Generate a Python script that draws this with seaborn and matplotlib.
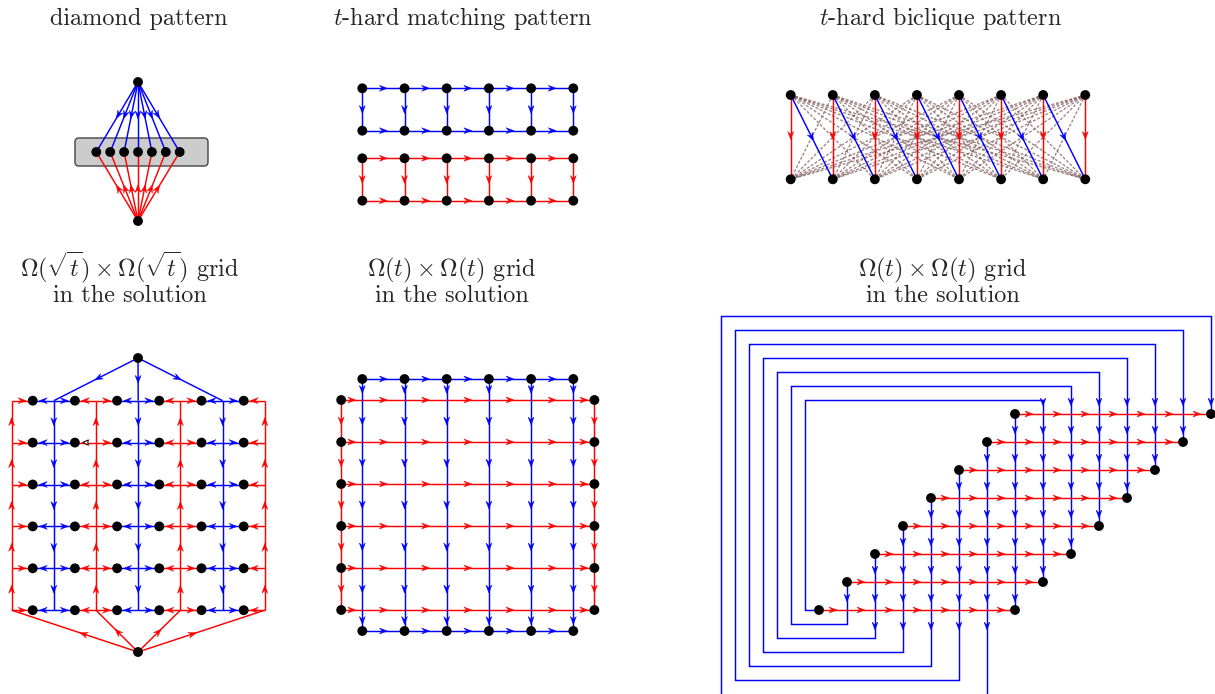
import numpy as np
import pandas as pd
import seaborn as sns
import matplotlib.pyplot as plt
from matplotlib.patches import Polygon, FancyBboxPatch

sns.set_theme(style="white")
plt.rcParams['font.family'] = 'serif'
plt.rcParams['font.serif'] = ['cmr10']
plt.rcParams['mathtext.fontset'] = 'cm'
plt.rcParams['axes.unicode_minus'] = False

# ---- data: structure of the six drawings ----
titles = ["diamond pattern", "$t$-hard matching pattern", "$t$-hard biclique pattern"]
titles_2 = [r"$\Omega(\sqrt{t}) \times \Omega(\sqrt{t})$ grid",
            r"$\Omega(t) \times \Omega(t)$ grid",
            r"$\Omega(t) \times \Omega(t)$ grid"]
subtitle = "in the solution"

diamond_n = 7                         # middle nodes in the diamond
matching_n = 6                        # nodes per row, matching pattern
matching_rows = ["blue", "red"]       # top pair of rows, bottom pair
biclique_n = 8                        # nodes per side, biclique
sqrt_n = 6                            # sqrt grid: nodes per row / rows
sqrt_red_cols = [-0.5, 1.5, 3.5, 5.5] # half positions of upward red columns
sqrt_blue_cols = [0.5, 2.5, 4.5]      # half positions of downward blue columns
sqrt_top_links = [0.5, 2.5, 4.5]
grid_n = 6                            # Omega(t) grid
stair_n = 8                           # staircase grid rows

BLUE, RED = (0, 0, 1), (1, 0, 0)
LW = 1.05

fig = plt.figure(figsize=(12.15, 6.94), dpi=100)
ax = fig.add_axes([0, 0, 1, 1])
ax.set_xlim(0, 1215)
ax.set_ylim(694, 0)
ax.axis('off')

nodes = []


def head(c, u, color, L=8.0, W=6.0):
    u = np.asarray(u, float)
    u = u / np.hypot(*u)
    n = np.array([-u[1], u[0]])
    c = np.asarray(c, float)
    tip = c + u * L / 2
    back = c - u * L / 2
    pts = [tip, back + n * W / 2, c - u * L * 0.15, back - n * W / 2]
    ax.add_patch(Polygon(pts, closed=True, fc=color, ec=color, lw=0.3, zorder=4))


def seg(p, q, color, frac=0.5, arrow=True, **kw):
    p = np.asarray(p, float)
    q = np.asarray(q, float)
    ax.plot([p[0], q[0]], [p[1], q[1]], color=color, lw=kw.pop('lw', LW), zorder=kw.pop('zorder', 2),
            solid_capstyle='butt', **kw)
    if arrow:
        head(p + (q - p) * frac, q - p, color)


# ---- titles ----
for x, s in zip([138.5, 463.5, 940.5], titles):
    ax.text(x, 25, s, ha='center', va='baseline', fontsize=17.5)
for x, s in zip([130, 452, 943], titles_2):
    ax.text(x, 302, s + "\n" + subtitle, ha='center', va='baseline', ma='center',
            linespacing=0.98, fontsize=17.5)

# ---- diamond pattern ----
d_cx, d_top, d_mid, d_bot, d_dx = 138, 82, 152, 221, 13.9
ax.add_patch(FancyBboxPatch((75, 138), 133, 28, boxstyle="round,pad=0,rounding_size=4",
                            fc='#cccccc', ec='#444444', lw=1.0, zorder=1))
mid_x = d_cx + (np.arange(diamond_n) - (diamond_n - 1) / 2) * d_dx
for x in mid_x:
    seg((d_cx, d_top), (x, d_mid), BLUE, 0.47)
    seg((d_cx, d_bot), (x, d_mid), RED, 0.47)
    nodes.append((x, d_mid))
nodes += [(d_cx, d_top), (d_cx, d_bot)]

# ---- matching pattern ----
m_x = 362.3 + np.arange(matching_n) * 42.2
m_rows = {"blue": (88.3, 130.7), "red": (158.3, 200.7)}
for name in matching_rows:
    col = BLUE if name == "blue" else RED
    ya, yb = m_rows[name]
    for j in range(matching_n):
        if j < matching_n - 1:
            seg((m_x[j], ya), (m_x[j + 1], ya), col)
            seg((m_x[j], yb), (m_x[j + 1], yb), col)
        seg((m_x[j], ya), (m_x[j], yb), col)
        nodes += [(m_x[j], ya), (m_x[j], yb)]

# ---- biclique pattern ----
b_x = 790.7 + np.arange(biclique_n) * 42.08
b_top, b_bot = 95, 179.3
for i in range(biclique_n):
    for j in range(biclique_n):
        if j != i and j != i + 1:
            ax.plot([b_x[i], b_x[j]], [b_top, b_bot], color='#876464', lw=0.95, alpha=0.8,
                    dashes=(2.2, 1.3), zorder=1)
for i in range(biclique_n):
    seg((b_x[i], b_top), (b_x[i], b_bot), RED, 0.48)
    if i + 1 < biclique_n:
        seg((b_x[i], b_top), (b_x[i + 1], b_bot), BLUE, 0.5)
    nodes += [(b_x[i], b_top), (b_x[i], b_bot)]

# ---- sqrt(t) grid ----
s_x0, s_dx, s_y0, s_dy = 32.7, 42.2, 400.7, 41.9
s_x = s_x0 + np.arange(sqrt_n) * s_dx
s_y = s_y0 + np.arange(sqrt_n) * s_dy
s_top, s_bot = (138, 358), (138, 652)


def hx(h):
    return s_x0 + h * s_dx


for h in sqrt_red_cols:
    for i in range(sqrt_n - 1):
        seg((hx(h), s_y[i + 1]), (hx(h), s_y[i]), RED)
for h in sqrt_blue_cols:
    for i in range(sqrt_n - 1):
        seg((hx(h), s_y[i]), (hx(h), s_y[i + 1]), BLUE)
for h in sqrt_top_links:
    seg(s_top, (hx(h), s_y[0]), BLUE, 0.5 if h == 2.5 else 0.47)
for h in sqrt_red_cols:
    seg(s_bot, (hx(h), s_y[-1]), RED, 0.43 if h in (-0.5, 5.5) else 0.48)
for y in s_y:
    for j in range(sqrt_n):
        lc, rc = (RED, BLUE) if j % 2 == 0 else (BLUE, RED)
        seg((hx(j - 0.5), y), (s_x[j], y), lc)
        seg((hx(j + 0.5), y), (s_x[j], y), rc)
        nodes.append((s_x[j], y))
nodes += [s_top, s_bot]
ax.plot(85, 442.3, marker='<', ms=3.5, mfc='white', mec='black', mew=0.7, zorder=5)

# ---- Omega(t) grid ----
g_x0, g_dx, g_y0, g_dy = 362.3, 42.2, 400, 42
g_x = g_x0 + np.arange(grid_n) * g_dx
g_y = g_y0 + np.arange(grid_n) * g_dy
g_xl, g_xr = g_x0 - g_dx / 2, g_x[-1] + g_dx / 2
g_yt, g_yb = g_y0 - g_dy / 2, g_y[-1] + g_dy / 2
for i, y in enumerate(g_y):
    xs = [g_xl, *g_x, g_xr]
    for a, b in zip(xs[:-1], xs[1:]):
        seg((a, y), (b, y), RED)
    if i < grid_n - 1:
        seg((g_xl, y), (g_xl, g_y[i + 1]), RED)
        seg((g_xr, y), (g_xr, g_y[i + 1]), RED)
    nodes += [(g_xl, y), (g_xr, y)]
for j, x in enumerate(g_x):
    ys = [g_yt, *g_y, g_yb]
    for a, b in zip(ys[:-1], ys[1:]):
        seg((x, a), (x, b), BLUE)
    if j < grid_n - 1:
        seg((x, g_yt), (g_x[j + 1], g_yt), BLUE)
        seg((x, g_yb), (g_x[j + 1], g_yb), BLUE)
    nodes += [(x, g_yt), (x, g_yb)]

# ---- staircase grid ----
t_x0, t_y0, t_d = 1015, 414, 28.0
hh = t_d / 2


def xc(c):
    return t_x0 + c * t_d


def yr(r):
    return t_y0 + r * t_d


def column_arrows(c, top, bottom):
    for r in range(stair_n + 1):
        y = yr(r) - 12
        if top < y < bottom:
            head((xc(c), y), (0, 1), BLUE)


ax.plot([xc(0), xc(0)], [yr(0), yr(stair_n - 1)], color=BLUE, lw=LW, zorder=2)
column_arrows(0, yr(0), yr(stair_n - 1))
for k in range(stair_n - 1):
    c_low, c_high = -(stair_n - 1) + k, k + 1
    xl = xc(-(stair_n - 1)) - hh * (k + 1)
    yt = yr(0) - hh * (k + 1)
    yb = yr(stair_n - 1) + hh * k
    if k == stair_n - 2:
        yb = 710  # outermost strand leaves the picture at the bottom
    px = [xc(c_low), xc(c_low), xl, xl, xc(c_high), xc(c_high)]
    py = [yr(-c_low), yb, yb, yt, yt, yr(stair_n - 1 - c_high)]
    ax.plot(px, py, color=BLUE, lw=LW, zorder=2, solid_joinstyle='miter')
    if k > 0:
        column_arrows(c_low, yr(-c_low), yb)
    column_arrows(c_high, yt, yr(stair_n - 1 - c_high))
for r in range(stair_n):
    cs = list(range(-r, stair_n - r))
    for a, b in zip(cs[:-1], cs[1:]):
        seg((xc(a), yr(r)), (xc(b), yr(r)), RED, zorder=3)
    nodes += [(xc(cs[0]), yr(r)), (xc(cs[-1]), yr(r))]

# ---- nodes ----
node_df = pd.DataFrame(nodes, columns=['x', 'y'])
sns.scatterplot(data=node_df, x='x', y='y', ax=ax, color='black', s=50, edgecolor='none',
                zorder=10, legend=False)
ax.set_xlim(0, 1215)
ax.set_ylim(694, 0)
ax.axis('off')

fig.savefig('out.png', dpi=100)
